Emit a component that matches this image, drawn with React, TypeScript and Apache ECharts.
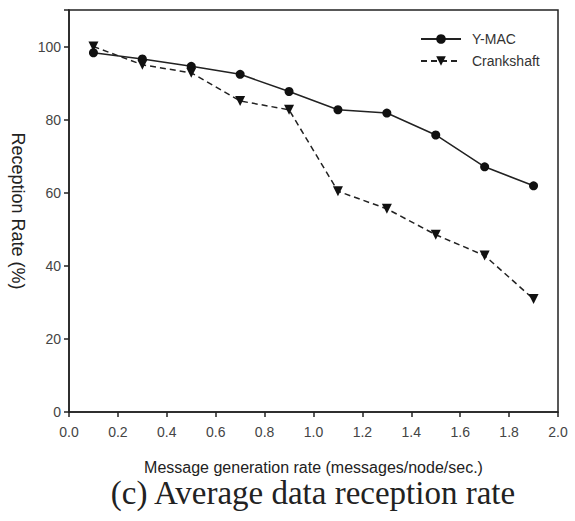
import React, { useEffect, useRef } from "react";
import * as echarts from "echarts";

const rates = [0.1, 0.3, 0.5, 0.7, 0.9, 1.1, 1.3, 1.5, 1.7, 1.9];
const ymac = [98.3, 96.6, 94.6, 92.4, 87.7, 82.7, 81.8, 75.8, 67.1, 61.9];
const crankshaft = [100, 95.0, 92.8, 85.1, 82.7, 60.4, 55.6, 48.5, 42.8, 30.9];
const seriesNames = ["Y-MAC", "Crankshaft"];
const xTitle = "Message generation rate (messages/node/sec.)";
const yTitle = "Reception Rate (%)";
const caption = "(c) Average data reception rate";

export default function App() {
  const ref = useRef<HTMLDivElement>(null);
  useEffect(() => {
    const chart = echarts.init(ref.current!, null, { renderer: "svg" });
    const sans = "Liberation Sans";
    chart.setOption({
      animation: false,
      backgroundColor: "#fff",
      grid: {
        left: 69,
        right: 17,
        top: 10,
        bottom: 109,
        show: true,
        borderColor: "#222",
        borderWidth: 1.5,
      },
      legend: {
        orient: "vertical",
        left: 415,
        top: 27,
        itemWidth: 40,
        itemHeight: 12,
        itemGap: 8,
        textStyle: { fontFamily: sans, fontSize: 14, color: "#333", padding: [0, 0, 0, 6] },
        data: seriesNames,
      },
      xAxis: {
        type: "value",
        min: 0,
        max: 2,
        interval: 0.2,
        name: xTitle,
        nameLocation: "middle",
        nameGap: 47,
        nameTextStyle: { fontFamily: sans, fontSize: 16, color: "#222" },
        axisLine: { lineStyle: { color: "#222", width: 1.5 } },
        axisTick: { inside: false, length: 5, lineStyle: { color: "#222", width: 1.5 } },
        axisLabel: {
          fontFamily: sans,
          fontSize: 14,
          color: "#444",
          margin: 13,
          formatter: (v: number) => v.toFixed(1),
        },
        splitLine: { show: false },
      },
      yAxis: {
        type: "value",
        min: 0,
        max: 110,
        interval: 20,
        name: yTitle,
        nameLocation: "middle",
        nameRotate: -90,
        nameGap: 42,
        nameTextStyle: { fontFamily: sans, fontSize: 18, color: "#222" },
        axisLine: { lineStyle: { color: "#222", width: 1.5 } },
        axisTick: { inside: false, length: 5, lineStyle: { color: "#222", width: 1.5 } },
        axisLabel: {
          fontFamily: sans,
          fontSize: 14,
          color: "#444",
          margin: 8,
          formatter: (v: number) => (v > 100 ? "" : String(v)),
        },
        splitLine: { show: false },
      },
      series: [
        {
          name: seriesNames[0],
          type: "line",
          data: rates.map((r, i) => [r, ymac[i]]),
          symbol: "circle",
          symbolSize: 9,
          itemStyle: { color: "#111" },
          lineStyle: { color: "#222", width: 1.5, type: "solid" },
        },
        {
          name: seriesNames[1],
          type: "line",
          data: rates.map((r, i) => [r, crankshaft[i]]),
          symbol: "triangle",
          symbolRotate: 180,
          symbolSize: 10,
          itemStyle: { color: "#111" },
          lineStyle: { color: "#222", width: 1.5, type: [6, 4] },
        },
      ],
      graphic: [
        {
          type: "text",
          x: 313,
          y: 493,
          style: {
            text: caption,
            fontFamily: "Liberation Serif",
            fontSize: 33,
            fill: "#222",
            align: "center",
            verticalAlign: "middle",
          },
        },
      ],
    });
    return () => chart.dispose();
  }, []);
  return <div ref={ref} style={{ width: 575, height: 521, position: "absolute", left: 0, top: 0 }} />;
}
